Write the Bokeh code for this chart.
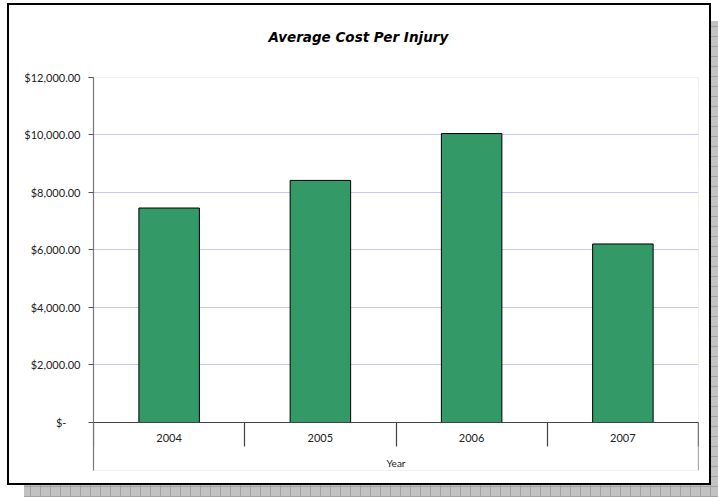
from bokeh.plotting import figure
from bokeh.layouts import column
from bokeh.models import Range1d, FixedTicker, LinearAxis, Title
from bokeh.embed import file_html
from bokeh.resources import INLINE

# ---- data ----
years = ["2004", "2005", "2006", "2007"]
avg_cost = [7460, 8420, 10050, 6210]
y_ticks = [0, 2000, 4000, 6000, 8000, 10000, 12000]
y_tick_labels = ["$-\u00a0\u00a0\u00a0\u00a0\u00a0", "$2,000.00", "$4,000.00", "$6,000.00",
                 "$8,000.00", "$10,000.00", "$12,000.00"]
title_text = "Average Cost Per Injury"
x_title = "Year"

n = len(years)
centers = [i + 0.5 for i in range(n)]
y_bottom = -1670
y_top = 12000

FONT = "Lato"

p = figure(width=704, height=482, output_backend="svg", toolbar_location=None,
           x_range=Range1d(0, n), y_range=Range1d(y_bottom, y_top),
           x_axis_location=None, y_axis_location=None, title=None,
           min_border_left=84, min_border_right=15, min_border_top=72, min_border_bottom=17,
           background_fill_color="white", border_fill_color="white",
           outline_line_color=None, margin=(3, 0, 0, 7))
p.styles = {"border": "2px solid black"}

# spacer between plot area and title, then the title itself
spacer = Title(text=" ", text_font_size="1px", standoff=9)
p.add_layout(spacer, "above")
chart_title = Title(text=title_text, text_font="DejaVu Sans", text_font_style="bold italic",
                    text_font_size="13.5px", text_color="black",
                    align="left", offset=175, standoff=42)
p.add_layout(chart_title, "above")

# bars
p.vbar(x=centers, top=avg_cost, bottom=0, width=0.4,
       fill_color="#339966", line_color="black", line_width=1)

# right boundary of category area below the axis
p.segment(x0=[n], y0=[y_bottom], x1=[n], y1=[0], line_color="#666666", line_width=1.2)

# y axis
yax = LinearAxis(ticker=FixedTicker(ticks=y_ticks),
                 major_label_overrides={v: s for v, s in zip(y_ticks, y_tick_labels)})
yax.axis_line_color = "#777777"
yax.axis_line_width = 1.2
yax.major_tick_line_color = "#555555"
yax.major_tick_out = 5
yax.major_tick_in = 0
yax.minor_tick_line_color = None
yax.major_label_text_font = FONT
yax.major_label_text_font_size = "11px"
yax.major_label_text_color = "#222222"
yax.major_label_standoff = 8
p.add_layout(yax, "left")

# x axis at y = 0
xax = LinearAxis(ticker=FixedTicker(ticks=centers, minor_ticks=list(range(n + 1))),
                 major_label_overrides={c: y for c, y in zip(centers, years)},
                 fixed_location=0)
xax.axis_line_color = "#444444"
xax.axis_line_width = 1.2
xax.major_tick_line_color = None
xax.major_tick_out = 0
xax.major_tick_in = 0
xax.minor_tick_line_color = "#444444"
xax.minor_tick_line_width = 1.2
xax.minor_tick_out = 24
xax.minor_tick_in = 0
xax.major_label_text_font = FONT
xax.major_label_text_font_size = "11px"
xax.major_label_text_color = "#222222"
xax.major_label_standoff = -12
xax.axis_label = x_title
xax.axis_label_text_font = FONT
xax.axis_label_text_font_size = "10px"
xax.axis_label_text_font_style = "normal"
xax.axis_label_text_color = "#222222"
xax.axis_label_standoff = 11
p.add_layout(xax, "below")

# grid
p.xgrid.visible = False
p.ygrid.ticker = FixedTicker(ticks=y_ticks)
p.ygrid.grid_line_color = "#c8c8ff"
p.ygrid.grid_line_width = 1

bg = ("linear-gradient(white, white), linear-gradient(white, white), "
      "repeating-linear-gradient(0deg, #a2a2a2 0px, #a2a2a2 1px, transparent 1px, transparent 10px), "
      "repeating-linear-gradient(90deg, #a2a2a2 0px, #a2a2a2 1px, transparent 1px, transparent 10px), "
      "linear-gradient(#c2c2c2, #c2c2c2)")
layout = column(p, width=718, height=497,
                styles={"background-image": bg,
                        "background-size": "100% 21px, 24px 100%, auto, auto, auto",
                        "background-repeat": "no-repeat, no-repeat, repeat, repeat, repeat",
                        "background-color": "white"})

open("out.html", "w").write(file_html(layout, INLINE))
